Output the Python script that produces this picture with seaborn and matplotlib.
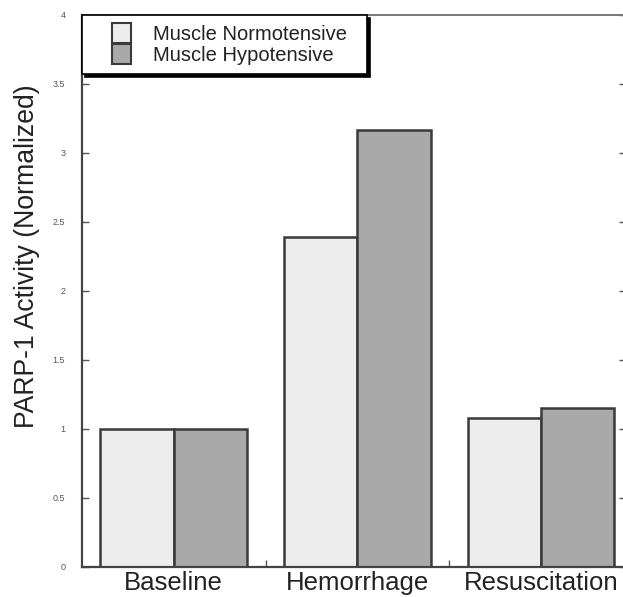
import matplotlib
matplotlib.use("Agg")
import matplotlib.pyplot as plt
from matplotlib.patches import Rectangle
from matplotlib.legend_handler import HandlerPatch
import seaborn as sns
import pandas as pd

# values
phases = ["Baseline", "Hemorrhage", "Resuscitation"]
normotensive = [1.00, 2.39, 1.08]
hypotensive = [1.00, 3.17, 1.15]
series = ["Muscle Normotensive", "Muscle Hypotensive"]
yticks = [0, 0.5, 1, 1.5, 2, 2.5, 3, 3.5, 4]
ytick_labels = ["0", "0.5", "1", "1.5", "2", "2.5", "3", "3.5", "4"]

df = pd.DataFrame({
    "phase": phases * 2,
    "group": [series[0]] * 3 + [series[1]] * 3,
    "activity": normotensive + hypotensive,
})

sns.set_style("white")
plt.rcParams["font.family"] = ["Liberation Sans", "DejaVu Sans"]

fig = plt.figure(figsize=(6.23, 5.97), dpi=100)
ax = fig.add_axes([0.1316, 0.0503, 0.873, 0.9246])

sns.barplot(
    data=df, x="phase", y="activity", hue="group", order=phases,
    hue_order=series, palette=["#ededed", "#a9a9a9"], width=0.8,
    edgecolor="#3a3a3a", linewidth=1.8, ax=ax, errorbar=None,
)

ax.set_xlim(-0.5, 2.462)
ax.set_ylim(0, 4)
ax.set_yticks(yticks)
ax.set_yticklabels(ytick_labels)
ax.set_xticks([0.5, 1.5], minor=True)
ax.tick_params(axis="y", direction="in", length=5, width=1, colors="#555",
               labelsize=6.5, pad=12, right=True, left=True)
ax.tick_params(axis="x", which="major", length=0, labelsize=18.5,
               labelcolor="#222", pad=3)
ax.tick_params(axis="x", which="minor", direction="in", length=5, width=1,
               color="#555", bottom=True)
ax.set_xlabel("")
ax.set_ylabel("PARP-1 Activity (Normalized)", fontsize=19.2, color="#222")
ax.yaxis.set_label_coords(-0.077, 0.563)

for side in ["left", "bottom"]:
    ax.spines[side].set_color("#444")
    ax.spines[side].set_linewidth(1.6)
ax.spines["top"].set_color("#777")
ax.spines["top"].set_linewidth(1.4)
ax.spines["right"].set_visible(False)


# legend swatch sits at the right end of a wider handle box (indented look)
def indented_square(legend, orig_handle, xdescent, ydescent, width, height, fontsize):
    w = 0.95 * fontsize
    return Rectangle((width - w - xdescent, -ydescent), w, height)


leg = ax.legend(
    loc="upper left", bbox_to_anchor=(0, 1, 0.524, 0), mode="expand",
    borderaxespad=0, fontsize=14.5, frameon=True, fancybox=False,
    shadow={"color": "black", "alpha": 1, "ox": 2.5, "oy": -2.5},
    edgecolor="black", handlelength=2.0, handleheight=1.15,
    handletextpad=1.1, labelspacing=0.0, borderpad=0.42,
    handler_map={Rectangle: HandlerPatch(patch_func=indented_square)},
)
leg.get_frame().set_linewidth(1.2)
for t in leg.get_texts():
    t.set_color("#222")
for h in leg.legend_handles:
    h.set_edgecolor("#3a3a3a")
    h.set_linewidth(1.5)

fig.savefig("out.png", dpi=100)
plt.close(fig)
